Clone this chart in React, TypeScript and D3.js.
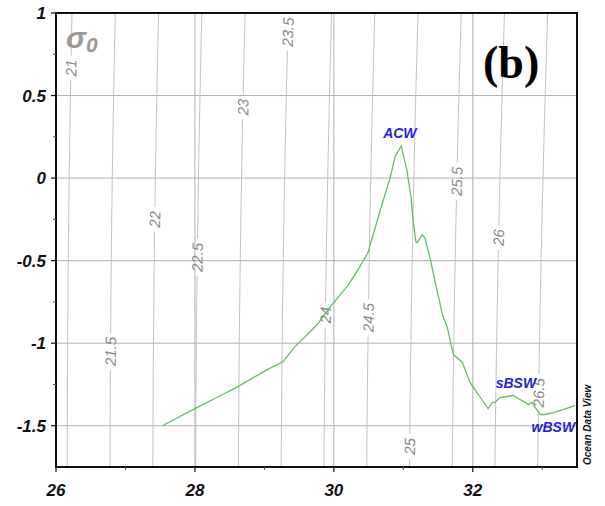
import React from "react";
import * as d3 from "d3";

// ---- data ----
const salinity = [27.53, 28.0, 28.4, 28.62, 29.04, 29.27, 29.44, 29.59, 29.76, 29.95, 30.19, 30.35, 30.49, 30.67, 30.81, 30.88, 30.97, 31.05, 31.11, 31.14, 31.18, 31.2, 31.27, 31.31, 31.39, 31.46, 31.57, 31.63, 31.72, 31.85, 31.96, 32.11, 32.22, 32.28, 32.32, 32.39, 32.49, 32.58, 32.68, 32.8, 32.85, 32.9, 32.97, 33.04, 33.16, 33.3, 33.47];
const temperature = [-1.5, -1.396, -1.311, -1.263, -1.16, -1.111, -1.021, -0.96, -0.887, -0.779, -0.658, -0.555, -0.452, -0.192, 0.002, 0.129, 0.195, 0.05, -0.113, -0.252, -0.385, -0.391, -0.343, -0.361, -0.494, -0.633, -0.839, -0.9, -1.069, -1.117, -1.238, -1.329, -1.396, -1.359, -1.359, -1.329, -1.323, -1.317, -1.341, -1.371, -1.359, -1.39, -1.432, -1.432, -1.42, -1.402, -1.378];

const sigmaLevels = [21, 21.5, 22, 22.5, 23, 23.5, 24, 24.5, 25, 25.5, 26, 26.5];
const sigmaLabelTemps = [0.667, -1.05, -0.25, -0.48, 0.43, 0.885, -0.83, -0.845, -1.625, -0.02, -0.36, -1.3];

const xMajorTicks = [26, 28, 30, 32];
const xMinorTicks = [27, 29, 31, 33];
const yMajorTicks = [-1.5, -1, -0.5, 0, 0.5, 1];
const yMinorTicks = [-1.25, -0.75, -0.25, 0.25, 0.75];
const yGrid = [-1.5, -1, -0.5, 0, 0.5];

const waterMassNames = ["ACW", "sBSW", "wBSW"];
const waterMassS = [30.95, 32.62, 33.16];
const waterMassT = [0.244, -1.269, -1.541];

// ---- EOS-80 sigma-0 ----
function sigma0(S: number, T: number) {
  const rw = 999.842594 + 6.793952e-2 * T - 9.09529e-3 * T * T + 1.001685e-4 * T ** 3 - 1.120083e-6 * T ** 4 + 6.536332e-9 * T ** 5;
  const A = 8.24493e-1 - 4.0899e-3 * T + 7.6438e-5 * T * T - 8.2467e-7 * T ** 3 + 5.3875e-9 * T ** 4;
  const B = -5.72466e-3 + 1.0227e-4 * T - 1.6546e-6 * T * T;
  const C = 4.8314e-4;
  return rw + A * S + B * S ** 1.5 + C * S * S - 1000;
}
function salinityFor(level: number, T: number) {
  let lo = 10, hi = 45;
  for (let i = 0; i < 60; i++) {
    const mid = (lo + hi) / 2;
    if (sigma0(mid, T) < level) lo = mid; else hi = mid;
  }
  return (lo + hi) / 2;
}

const W = 605, H = 506;
const L = 56, R = 577, T0 = 13, B0 = 467;
const LABEL_FS = 15;

export default function App() {
  const x = d3.scaleLinear().domain([26, 33.5]).range([L, R]);
  const y = d3.scaleLinear().domain([-1.75, 1]).range([B0, T0]);

  const line = d3.line<[number, number]>().x(d => x(d[0])).y(d => y(d[1]));
  const curve = line(salinity.map((s, i) => [s, temperature[i]] as [number, number]));

  const tSamples = d3.range(-1.9, 1.15, 0.05);

  const contours = sigmaLevels.map((lev, i) => {
    const lt = sigmaLabelTemps[i];
    const label = String(lev);
    const len = (label.replace(".", "").length * 0.556 + (label.includes(".") ? 0.278 : 0)) * LABEL_FS;
    const half = len / 2 + 4;
    const ly = y(lt);
    const tTop = y.invert(ly - half);
    const tBot = y.invert(ly + half);
    const ts = tSamples.filter(t => t < tBot || t > tTop).concat([tBot, tTop]).sort((a, b) => a - b);
    const pts = ts.map(t => [salinityFor(lev, t), t] as [number, number]);
    const segLine = d3.line<[number, number]>().x(d => x(d[0])).y(d => y(d[1]));
    const lower = pts.filter(p => p[1] <= tBot + 1e-9);
    const upper = pts.filter(p => p[1] >= tTop - 1e-9);
    const lx = x(salinityFor(lev, lt));
    const p1 = [x(salinityFor(lev, lt - 0.05)), y(lt - 0.05)];
    const p2 = [x(salinityFor(lev, lt + 0.05)), y(lt + 0.05)];
    const ang = (Math.atan2(p2[1] - p1[1], p2[0] - p1[0]) * 180) / Math.PI;
    return { lev, label, lower: segLine(lower), upper: segLine(upper), lx, ly, ang };
  });

  const axisFont = "'Liberation Sans', Arial, sans-serif";

  return (
    <svg width={W} height={H} style={{ position: "absolute", left: 0, top: 0, background: "#fff" }}>
      <rect x={0} y={0} width={W} height={H} fill="#fff" />
      <defs>
        <clipPath id="plot">
          <rect x={L} y={T0} width={R - L} height={B0 - T0} />
        </clipPath>
      </defs>
      <g clipPath="url(#plot)">
        {yGrid.map(v => (
          <line key={"hg" + v} x1={L} x2={R} y1={y(v)} y2={y(v)} stroke="#b0b0b0" strokeWidth={1} />
        ))}
        {xMajorTicks.map(v => (
          <line key={"vg" + v} x1={x(v)} x2={x(v)} y1={T0} y2={B0} stroke="#b0b0b0" strokeWidth={1} />
        ))}
        {contours.map(c => (
          <g key={"c" + c.lev}>
            <path d={c.lower || ""} fill="none" stroke="#c2c2c2" strokeWidth={1} />
            <path d={c.upper || ""} fill="none" stroke="#c2c2c2" strokeWidth={1} />
          </g>
        ))}
        {contours.map(c => (
          <text key={"cl" + c.lev} x={c.lx} y={c.ly} transform={`rotate(${c.ang} ${c.lx} ${c.ly})`}
            textAnchor="middle" dy="0.36em" fontFamily={axisFont} fontStyle="italic" fontSize={LABEL_FS} fill="#8a8a8a">
            {c.label}
          </text>
        ))}
        <path d={curve || ""} fill="none" stroke="#62bf62" strokeWidth={1.3} />
      </g>

      {/* frame */}
      <rect x={L} y={T0} width={R - L} height={B0 - T0} fill="none" stroke="#111" strokeWidth={2} />

      {/* y ticks */}
      {yMajorTicks.map(v => (
        <g key={"yt" + v}>
          <line x1={L - 5} x2={L} y1={y(v)} y2={y(v)} stroke="#111" strokeWidth={1.2} />
          <text x={46} y={y(v)} dy="0.36em" textAnchor="end" fontFamily={axisFont} fontWeight="bold" fontStyle="italic" fontSize={17} fill="#111">
            {String(v)}
          </text>
        </g>
      ))}
      {yMinorTicks.map(v => (
        <line key={"ym" + v} x1={L - 3} x2={L} y1={y(v)} y2={y(v)} stroke="#555" strokeWidth={1} />
      ))}
      {/* x ticks */}
      {xMajorTicks.map(v => (
        <g key={"xt" + v}>
          <line x1={x(v)} x2={x(v)} y1={B0} y2={B0 + 5} stroke="#111" strokeWidth={1.2} />
          <text x={x(v)} y={496} textAnchor="middle" fontFamily={axisFont} fontWeight="bold" fontStyle="italic" fontSize={17} fill="#111">
            {String(v)}
          </text>
        </g>
      ))}
      {xMinorTicks.map(v => (
        <line key={"xm" + v} x1={x(v)} x2={x(v)} y1={B0} y2={B0 + 3} stroke="#555" strokeWidth={1} />
      ))}

      {/* sigma label */}
      <text x={66} y={48} fontFamily={axisFont} fontWeight="bold" fontStyle="italic" fill="#9a9a9a">
        <tspan fontSize={30}>σ</tspan>
        <tspan fontSize={21} dy={4}>0</tspan>
      </text>

      {/* panel label */}
      <text x={483} y={78} fontFamily="'Liberation Serif', 'Times New Roman', serif" fontWeight="bold" fontSize={46} fill="#000">
        (b)
      </text>

      {/* water masses */}
      {waterMassNames.map((n, i) => (
        <text key={n} x={x(waterMassS[i])} y={y(waterMassT[i])} textAnchor="middle" fontFamily={axisFont}
          fontWeight="bold" fontStyle="italic" fontSize={14} fill="#2323dd">
          {n}
        </text>
      ))}

      {/* ODV credit */}
      <text x={591} y={465} transform="rotate(-90 591 465)" fontFamily={axisFont} fontWeight="bold" fontStyle="italic" fontSize={10} fill="#111">
        Ocean Data View
      </text>
    </svg>
  );
}
